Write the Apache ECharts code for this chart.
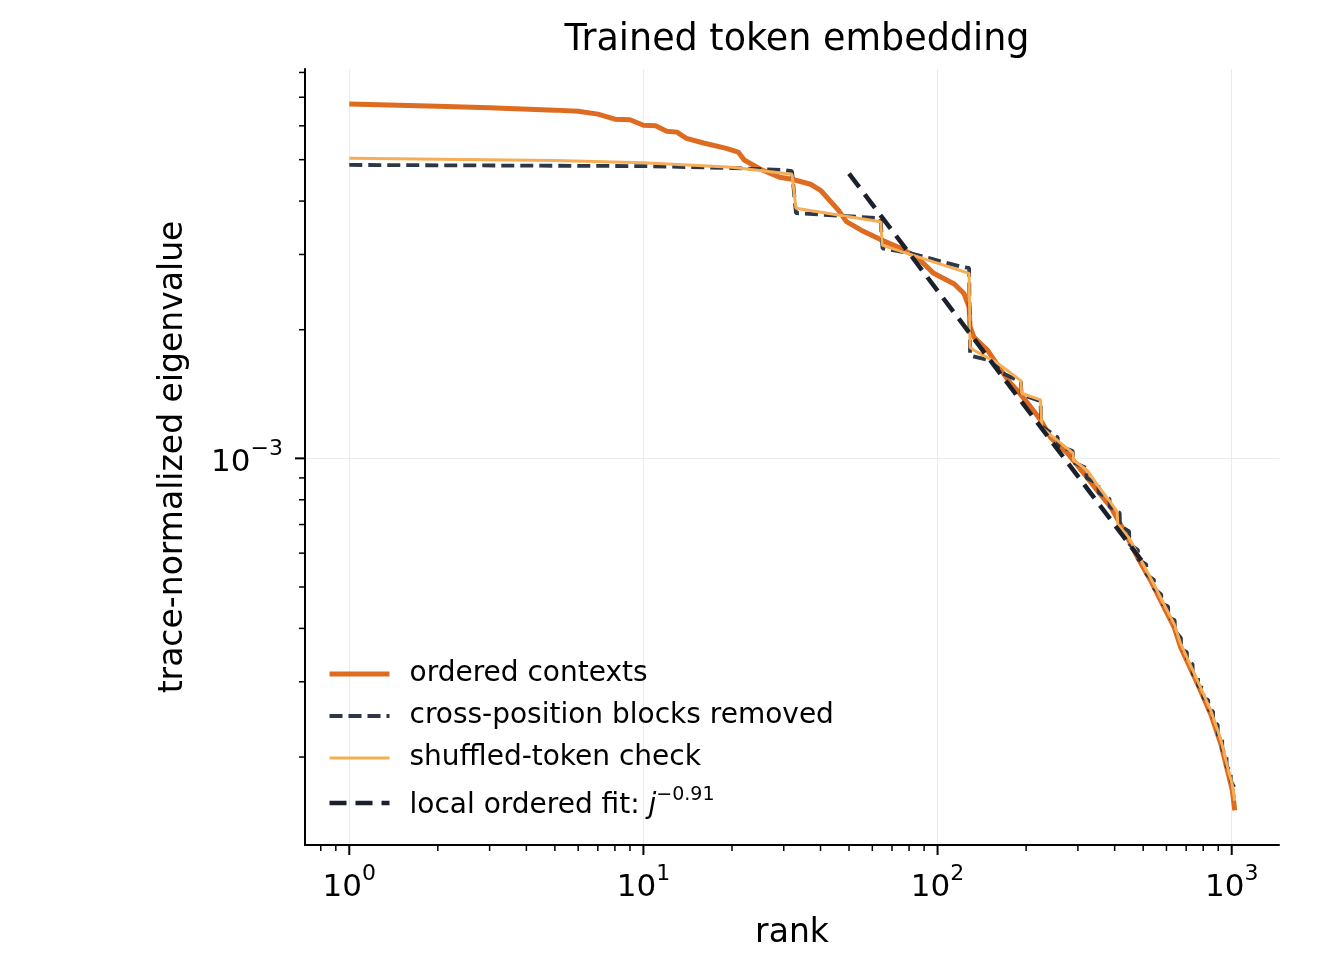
<!DOCTYPE html>
<html><head><meta charset="utf-8">
<script src="https://cdn.jsdelivr.net/npm/echarts@6/dist/echarts.min.js"></script>
<style>html,body{margin:0;padding:0;background:#fff}#c{width:1317px;height:955px}</style>
</head><body><div id="c"></div>
<script>
// ---- data ----
const orderedRank = [1,2,3,5,6,7,8,9,10,11,12,13,14,16,19,21,22,25,29,32,37,40,46,49,55,64,75,85,97,114,123,128,129,133,148,164,177,187,207,224,242,276,315,349,388,430,478,530,589,637,671,765,849,918,967,1005,1024];
const orderedValue = [6.75e-3,6.67e-3,6.61e-3,6.53e-3,6.49e-3,6.39e-3,6.22e-3,6.20e-3,6.02e-3,6.00e-3,5.83e-3,5.80e-3,5.61e-3,5.47e-3,5.32e-3,5.21e-3,4.99e-3,4.75e-3,4.55e-3,4.50e-3,4.38e-3,4.24e-3,3.81e-3,3.58e-3,3.42e-3,3.25e-3,3.10e-3,2.96e-3,2.71e-3,2.56e-3,2.43e-3,2.26e-3,2.03e-3,1.92e-3,1.79e-3,1.61e-3,1.50e-3,1.44e-3,1.32e-3,1.23e-3,1.12e-3,1.03e-3,9.21e-4,8.41e-4,7.69e-4,6.78e-4,5.87e-4,5.18e-4,4.48e-4,4.03e-4,3.61e-4,2.97e-4,2.52e-4,2.15e-4,1.86e-4,1.67e-4,1.50e-4];

const crossRank = [1,10,20,30,32,33,63,64,65,81,120,128,129,148,160,161,192,193,224,225,256,257,288,289,320,321,352,353,384,385,416,417,448,449,480,481,512,513,544,545,576,577,608,609,640,641,672,673,704,705,736,737,768,769,800,801,832,833,864,865,896,897,928,929,960,961,992,993,1024];
const crossValue = [4.86e-3,4.83e-3,4.78e-3,4.73e-3,4.70e-3,3.75e-3,3.65e-3,3.63e-3,3.10e-3,3.02e-3,2.81e-3,2.79e-3,1.74e-3,1.70e-3,1.66e-3,1.60e-3,1.51e-3,1.41e-3,1.36e-3,1.19e-3,1.12e-3,1.07e-3,1.04e-3,9.8e-4,9.5e-4,9.0e-4,8.7e-4,8.3e-4,8.05e-4,7.7e-4,7.45e-4,6.95e-4,6.75e-4,6.3e-4,6.1e-4,5.8e-4,5.65e-4,5.35e-4,5.2e-4,4.95e-4,4.8e-4,4.57e-4,4.5e-4,4.25e-4,4.18e-4,3.95e-4,3.8e-4,3.58e-4,3.52e-4,3.35e-4,3.3e-4,3.12e-4,3.08e-4,2.93e-4,2.9e-4,2.75e-4,2.72e-4,2.58e-4,2.56e-4,2.42e-4,2.38e-4,2.25e-4,2.2e-4,2.08e-4,2.02e-4,1.9e-4,1.85e-4,1.76e-4,1.69e-4];

const shuffledRank = [1,5,10,20,32,33,64,65,128,129,133,160,192,193,224,226,256,288,290,323,352,384,408,410,448,480,530,589,637,671,765,849,918,967,1005,1024];
const shuffledValue = [5.04e-3,4.98e-3,4.92e-3,4.80e-3,4.62e-3,3.85e-3,3.58e-3,3.15e-3,2.71e-3,1.82e-3,1.79e-3,1.67e-3,1.52e-3,1.42e-3,1.37e-3,1.18e-3,1.10e-3,1.03e-3,9.9e-4,9.37e-4,8.6e-4,7.95e-4,7.5e-4,7.0e-4,6.5e-4,5.95e-4,5.25e-4,4.55e-4,4.1e-4,3.68e-4,3.02e-4,2.57e-4,2.2e-4,1.9e-4,1.72e-4,1.58e-4];

const fitRank = [50, 500];
const fitValue = [4.64e-3, 5.70e-4];

const xMajorTicks = [1, 10, 100, 1000];
const xMinorTicks = [0.8,0.9,2,3,4,5,6,7,8,9,20,30,40,50,60,70,80,90,200,300,400,500,600,700,800,900];
const yMajorTicks = [1e-3];
const yMinorTicks = [2e-4,3e-4,4e-4,5e-4,6e-4,7e-4,8e-4,9e-4,2e-3,3e-3,4e-3,5e-3,6e-3,7e-3,8e-3];

const NAMES = ['ordered contexts','cross-position blocks removed','shuffled-token check','local ordered fit: j^\u22120.91'];
// ---------------------------------------------------

const FONT = 'DejaVu Sans';
const COLORS = ['#DD6B20', '#2D3748', '#F6AD55', '#1A202C'];
const WIDTHS = [5, 3.8, 3, 4.5];
const DASHES = ['solid', [13, 6], 'solid', [17, 9]];

function pairs(xs, ys) { return xs.map((x, i) => [x, ys[i]]); }

function tickSeries(axis, values, len, width) {
  return {
    type: 'custom', silent: true, z: 10, clip: false,
    data: values.map(v => axis === 'x' ? [v, 1e-3] : [1, v]),
    renderItem: (params, api) => {
      const cs = params.coordSys;
      const p = api.coord([api.value(0), api.value(1)]);
      let shape;
      if (axis === 'x') { const y0 = cs.y + cs.height; shape = {x1: p[0], y1: y0, x2: p[0], y2: y0 + len}; }
      else { const x0 = cs.x; shape = {x1: x0, y1: p[1], x2: x0 - len, y2: p[1]}; }
      return {type: 'line', shape: shape, style: {stroke: '#000', lineWidth: width}};
    }
  };
}

function expLabel(v) {
  const e = Math.round(Math.log10(v));
  const s = e < 0 ? '\u2212' + (-e) : String(e);
  return '{b|10}{s|' + s + '}';
}
const labelRich = {
  b: {fontFamily: FONT, fontSize: 31, color: '#000', lineHeight: 40, verticalAlign: 'bottom'},
  s: {fontFamily: FONT, fontSize: 22, color: '#000', lineHeight: 22, verticalAlign: 'top'}
};

function lineSeries(i, xs, ys) {
  return {name: NAMES[i], type: 'line', data: pairs(xs, ys), showSymbol: false, symbol: 'none',
    lineStyle: {color: COLORS[i], width: WIDTHS[i], type: DASHES[i]}, itemStyle: {color: COLORS[i]}, z: 2 + i};
}

const chart = echarts.init(document.getElementById('c'), null, {renderer: 'canvas'});
chart.setOption({
  animation: false,
  backgroundColor: '#fff',
  title: {
    text: 'Trained token embedding', left: 792, top: 17, textAlign: 'center',
    textStyle: {fontFamily: FONT, fontSize: 36.5, fontWeight: 'normal', color: '#000'}
  },
  grid: {left: 305, right: 38, top: 69, bottom: 110, containLabel: false},
  legend: {
    orient: 'vertical', left: 322, top: 655, itemWidth: 60, itemHeight: 14, itemGap: 14,
    selectedMode: false,
    data: NAMES.map((n, i) => ({
      name: n,
      itemStyle: {color: 'transparent', borderWidth: 0},
      lineStyle: {color: COLORS[i], width: WIDTHS[i], type: DASHES[i]}
    })),
    textStyle: {
      fontFamily: FONT, fontSize: 28, color: '#000', padding: [0, 0, 0, 15],
      rich: {
        i: {fontFamily: FONT, fontSize: 28, fontStyle: 'italic', color: '#000', lineHeight: 34, verticalAlign: 'bottom'},
        t: {fontFamily: FONT, fontSize: 28, color: '#000', lineHeight: 34, verticalAlign: 'bottom'},
        sup: {fontFamily: FONT, fontSize: 19, color: '#000', lineHeight: 19, verticalAlign: 'top'}
      }
    },
    formatter: name => name === NAMES[3] ? '{t|local ordered fit: }{i|j}{sup|\u22120.91}' : name
  },
  xAxis: {
    type: 'log', logBase: 10, min: 0.7071, max: 1448,
    name: 'rank', nameLocation: 'middle', nameGap: 72,
    nameTextStyle: {fontFamily: FONT, fontSize: 33, color: '#000'},
    axisLine: {show: true, lineStyle: {color: '#000', width: 2}},
    axisTick: {show: false},
    axisLabel: {show: true, margin: 18, showMinLabel: false, showMaxLabel: false, formatter: expLabel, rich: labelRich},
    splitLine: {show: true, showMinLine: false, showMaxLine: false, lineStyle: {color: '#ebebeb', width: 1}},
    minorTick: {show: false}, minorSplitLine: {show: false}
  },
  yAxis: {
    type: 'log', logBase: 10, min: 1.245e-4, max: 8.15e-3,
    name: 'trace-normalized eigenvalue', nameLocation: 'middle', nameGap: 115, nameRotate: 90,
    nameTextStyle: {fontFamily: FONT, fontSize: 33, color: '#000'},
    axisLine: {show: true, lineStyle: {color: '#000', width: 2}},
    axisTick: {show: false},
    axisLabel: {show: true, margin: 22, showMinLabel: false, showMaxLabel: false, formatter: expLabel, rich: labelRich},
    splitLine: {show: true, showMinLine: false, showMaxLine: false, lineStyle: {color: '#ebebeb', width: 1}},
    minorTick: {show: false}, minorSplitLine: {show: false}
  },
  series: [
    lineSeries(0, orderedRank, orderedValue),
    lineSeries(1, crossRank, crossValue),
    lineSeries(2, shuffledRank, shuffledValue),
    lineSeries(3, fitRank, fitValue),
    tickSeries('x', xMajorTicks, 10, 2),
    tickSeries('x', xMinorTicks, 6, 1.5),
    tickSeries('y', yMajorTicks, 10, 2),
    tickSeries('y', yMinorTicks, 6, 1.5)
  ]
});
</script>
</body></html>
